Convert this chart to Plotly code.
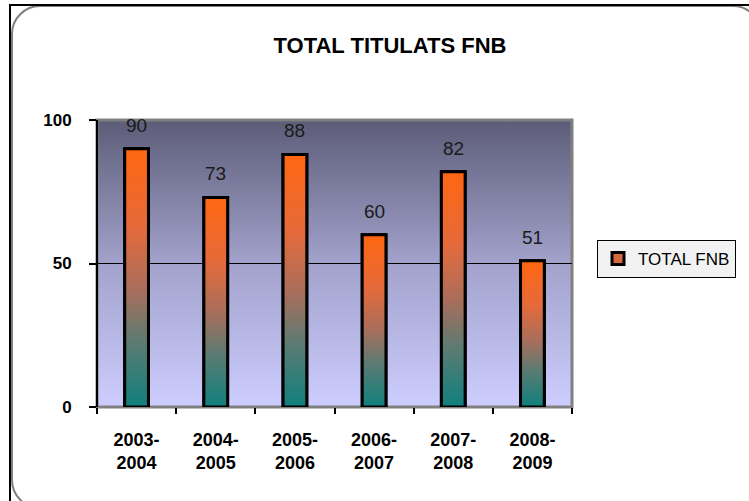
import base64
import plotly.graph_objects as go

# ---- data ----
categories = ["2003-<br>2004", "2004-<br>2005", "2005-<br>2006", "2006-<br>2007", "2007-<br>2008", "2008-<br>2009"]
values = [90, 73, 88, 60, 82, 51]
series_name = "TOTAL FNB"
y_ticks = [0, 50, 100]

# ---- geometry / style ----
W, H = 749, 501
L, R, T, B = 97, 177, 120, 94
PW, PH = W - L - R, H - T - B
BAR_W = 0.30
FONT = "Liberation Sans, Arial, sans-serif"
bar_scale = [[0, "#0f807e"], [0.25, "#5b7b72"], [0.45, "#a86e5c"], [0.7, "#e66a3a"], [1, "#ff6611"]]

svg = f"""<svg xmlns='http://www.w3.org/2000/svg' width='{W}' height='{H}' viewBox='0 0 {W} {H}'>
<defs><linearGradient id='g' x1='0' y1='0' x2='0' y2='1'>
<stop offset='0' stop-color='#5c5c78'/><stop offset='0.5' stop-color='#a2a2cc'/><stop offset='1' stop-color='#cdcdff'/>
</linearGradient></defs>
<rect width='{W}' height='{H}' fill='white'/>
<rect x='12' y='6' width='749' height='502' rx='28' fill='none' stroke='#7f7f7f' stroke-width='2'/>
<line x1='9' y1='5' x2='{W}' y2='5' stroke='black' stroke-width='2'/>
<line x1='10' y1='4' x2='10' y2='{H}' stroke='black' stroke-width='2'/>
<rect x='{L}' y='{T}' width='{PW}' height='{PH}' fill='url(#g)' stroke='#808080' stroke-width='3'/>
<line x1='{L}' y1='{T}' x2='{L}' y2='{T + PH}' stroke='black' stroke-width='2'/>
</svg>"""
svg_uri = "data:image/svg+xml;base64," + base64.b64encode(svg.encode()).decode()

xs = list(range(len(values)))

fig = go.Figure()
# base bar trace (legend entry + structure)
fig.add_trace(go.Bar(
    x=xs, y=values, width=BAR_W, name=series_name,
    marker=dict(color="#d9673e", line=dict(color="black", width=3)),
    hoverinfo="skip",
))
# gradient fill for each bar
for i, v in zip(xs, values):
    hw = BAR_W / 2
    fig.add_trace(go.Scatter(
        x=[i - hw, i - hw, i + hw, i + hw, i - hw],
        y=[0, v, v, 0, 0],
        mode="lines", fill="toself",
        fillgradient=dict(type="vertical", colorscale=bar_scale, start=0, stop=v),
        line=dict(color="black", width=3),
        showlegend=False, hoverinfo="skip",
    ))

for i, v in zip(xs, values):
    fig.add_annotation(x=i, y=v, text=str(v), showarrow=False, yanchor="bottom",
                       yshift=11, font=dict(family=FONT, size=19, color="#1a1a1a"))

fig.update_layout(
    width=W, height=H,
    margin=dict(l=L, r=R, t=T, b=B),
    paper_bgcolor="white", plot_bgcolor="rgba(0,0,0,0)",
    title=dict(text="TOTAL TITULATS FNB", x=390 / W, xref="container", xanchor="center",
               y=1 - 45 / H, yref="container", yanchor="middle",
               font=dict(family=FONT, size=22, color="black", weight="bold")),
    showlegend=True,
    legend=dict(x=(597 - L) / PW, xanchor="left", y=(H - B - 259) / PH, yanchor="middle",
                bgcolor="#f2f2f2", bordercolor="black", borderwidth=1,
                font=dict(family=FONT, size=17, color="black")),
    images=[dict(source=svg_uri, xref="paper", yref="paper", x=-L / PW, y=1 + T / PH,
                 sizex=W / PW, sizey=H / PH, xanchor="left", yanchor="top",
                 sizing="stretch", layer="below")],
    xaxis=dict(range=[-0.5, len(values) - 0.5], tickmode="array", tickvals=xs, ticktext=categories,
               showgrid=False, zeroline=False, showline=False, ticks="outside", ticklen=0,
               ticklabelstandoff=16,
               minor=dict(tickmode="array", tickvals=[k - 0.5 for k in range(len(values) + 1)],
                          ticks="outside", ticklen=6, tickcolor="black", tickwidth=1.5, showgrid=False),
               tickfont=dict(family=FONT, size=18, color="black", weight="bold")),
    yaxis=dict(range=[0, 100], tickmode="array", tickvals=y_ticks, showgrid=False, zeroline=False,
               showline=False,
               ticks="outside", ticklen=7, tickcolor="black", tickwidth=1.5,
               ticklabelstandoff=14,
               minor=dict(tickmode="array", tickvals=[50], showgrid=True, gridcolor="black",
                          gridwidth=1, ticks=""),
               tickfont=dict(family=FONT, size=17, color="black", weight="bold")),
)

fig.write_html("out.html", config={"displayModeBar": False},
               post_script="document.body.style.margin='0';")
